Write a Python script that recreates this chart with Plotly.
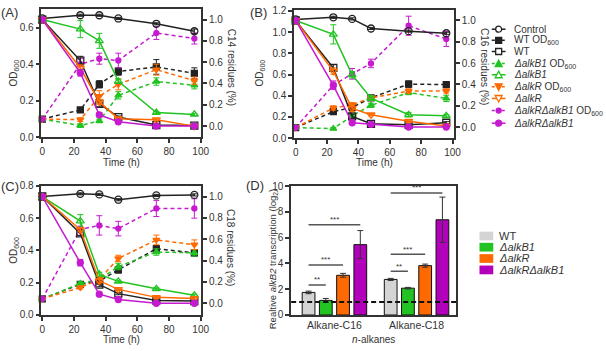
import plotly.graph_objects as go

W, H = 606, 351
def px(x): return x / W
def py(y): return 1 - y / H

FONT = "Liberation Sans, Arial, sans-serif"
AX = "#333333"
BLACK = "#222222"
GREEN = "#22c322"
ORANGE = "#ff6a00"
MAGENTA = "#c61ad0"
PURPLE = "#b300bb"
GREY = "#d4d4d4"

# ---------------- data ----------------
time_h = [0, 24, 36, 48, 72, 96]

# Panel A (C14)
ctrl_A   = [1.01, 1.04, 1.04, 1.01, 0.96, 0.89]
wt_od_A  = [0.10, 0.15, 0.29, 0.36, 0.385, 0.35]
wt_res_A = [1.00, 0.615, 0.21, 0.085, 0.01, 0.005]
b1_od_A  = [0.10, 0.065, 0.09, 0.23, 0.305, 0.285]
b1_res_A = [1.00, 0.91, 0.80, 0.42, 0.127, 0.11]
r_od_A   = [0.10, 0.097, 0.225, 0.29, 0.37, 0.31]
r_res_A  = [1.00, 0.545, 0.227, 0.07, 0.06, 0.0]
rb_od_A  = [0.10, 0.40, 0.43, 0.42, 0.57, 0.54]
rb_res_A = [1.00, 0.50, 0.106, 0.04, 0.0, 0.0]

# Panel B (C16)
ctrl_B   = [1.01, 1.03, 1.015, 0.925, 0.90, 0.88]
wt_od_B  = [0.10, 0.25, 0.29, 0.38, 0.51, 0.505]
wt_res_B = [1.00, 0.555, 0.10, 0.03, 0.02, 0.04]
b1_od_B  = [0.10, 0.09, 0.21, 0.31, 0.43, 0.375]
b1_res_B = [1.00, 0.87, 0.49, 0.27, 0.115, 0.105]
r_od_B   = [0.10, 0.285, 0.315, 0.38, 0.445, 0.445]
r_res_B  = [1.00, 0.525, 0.175, 0.115, 0.055, 0.01]
rb_od_B  = [0.10, 0.50, 0.607, 0.705, 1.06, 0.935]
rb_res_B = [1.00, 0.39, 0.04, 0.025, 0.0, 0.0]

# Panel C (C18)
ctrl_C   = [1.00, 1.025, 1.02, 0.97, 1.01, 1.015]
wt_od_C  = [0.10, 0.19, 0.21, 0.28, 0.41, 0.385]
wt_res_C = [1.00, 0.655, 0.175, 0.09, 0.025, 0.02]
b1_od_C  = [0.10, 0.195, 0.22, 0.30, 0.39, 0.385]
b1_res_C = [1.00, 0.77, 0.27, 0.205, 0.135, 0.075]
r_od_C   = [0.10, 0.17, 0.22, 0.35, 0.465, 0.435]
r_res_C  = [1.00, 0.69, 0.21, 0.13, 0.055, 0.045]
rb_od_C  = [0.10, 0.53, 0.555, 0.535, 0.66, 0.66]
rb_res_C = [1.00, 0.38, 0.085, 0.035, 0.0, 0.0]

# error bars (same units as values)
err_A = {
    "ctrl": [0, 0.01, 0.01, 0.01, 0.01, 0.02],
    "wt_od": [0, 0.01, 0.02, 0.02, 0.04, 0.03],
    "wt_res": [0, 0.04, 0.03, 0.01, 0.01, 0.01],
    "b1_od": [0, 0.01, 0.01, 0.02, 0.02, 0.02],
    "b1_res": [0, 0.08, 0.07, 0.02, 0.01, 0.01],
    "r_od": [0, 0.01, 0.03, 0.03, 0.03, 0.02],
    "r_res": [0, 0.03, 0.02, 0.01, 0.01, 0.01],
    "rb_od": [0, 0.03, 0.03, 0.04, 0.035, 0.03],
    "rb_res": [0, 0.03, 0.02, 0.01, 0.01, 0.01],
}
err_B = {
    "ctrl": [0, 0.01, 0.01, 0.01, 0.01, 0.01],
    "wt_od": [0, 0.01, 0.02, 0.02, 0.03, 0.02],
    "wt_res": [0, 0.03, 0.02, 0.01, 0.01, 0.01],
    "b1_od": [0, 0.01, 0.02, 0.02, 0.02, 0.03],
    "b1_res": [0, 0.09, 0.03, 0.02, 0.02, 0.01],
    "r_od": [0, 0.02, 0.02, 0.02, 0.02, 0.02],
    "r_res": [0, 0.03, 0.03, 0.01, 0.01, 0.01],
    "rb_od": [0, 0.04, 0.05, 0.04, 0.09, 0.07],
    "rb_res": [0, 0.03, 0.01, 0.01, 0.01, 0.01],
}
err_C = {
    "ctrl": [0, 0.01, 0.01, 0.01, 0.01, 0.01],
    "wt_od": [0, 0.01, 0.01, 0.02, 0.02, 0.02],
    "wt_res": [0, 0.02, 0.02, 0.01, 0.01, 0.01],
    "b1_od": [0, 0.01, 0.01, 0.02, 0.02, 0.02],
    "b1_res": [0, 0.06, 0.02, 0.01, 0.01, 0.01],
    "r_od": [0, 0.01, 0.01, 0.02, 0.03, 0.03],
    "r_res": [0, 0.02, 0.02, 0.01, 0.01, 0.01],
    "rb_od": [0, 0.02, 0.06, 0.045, 0.05, 0.06],
    "rb_res": [0, 0.03, 0.01, 0.01, 0.01, 0.01],
}

# Panel D
groups = ["Alkane-C16", "Alkane-C18"]
wt_D = [1.75, 2.76];  wt_D_err = [0.10, 0.08]
b1_D = [1.13, 2.08];  b1_D_err = [0.15, 0.06]
r_D  = [3.08, 3.83];  r_D_err  = [0.15, 0.12]
rb_D = [5.46, 7.39];  rb_D_err = [1.09, 1.76]
sig_levels = [[2.33, 3.88, 7.0], [3.4, 4.72, 9.47]]
sig_labels = ["**", "***", "***"]

legend_names = ["Control", "WT OD<sub>600</sub>", "WT",
                "<i>ΔalkB1</i> OD<sub>600</sub>", "<i>ΔalkB1</i>",
                "<i>ΔalkR</i> OD<sub>600</sub>", "<i>ΔalkR</i>",
                "<i>ΔalkRΔalkB1</i> OD<sub>600</sub>", "<i>ΔalkRΔalkB1</i>"]
bar_names = ["WT", "<i>ΔalkB1</i>", "<i>ΔalkR</i>", "<i>ΔalkRΔalkB1</i>"]

# ---------------- styles ----------------
styles = [
    ("ctrl", BLACK, False, "circle-open", True, 7),
    ("wt_od", BLACK, True, "square", False, 6),
    ("wt_res", BLACK, False, "square-open", True, 7),
    ("b1_od", GREEN, True, "triangle-up", False, 6),
    ("b1_res", GREEN, False, "triangle-up-open", True, 7),
    ("r_od", ORANGE, True, "triangle-down", False, 6),
    ("r_res", ORANGE, False, "triangle-down-open", True, 7),
    ("rb_od", MAGENTA, True, "circle", False, 5),
    ("rb_res", MAGENTA, False, "circle", True, 6),
]

panels = [
    (dict(ctrl=ctrl_A, wt_od=wt_od_A, wt_res=wt_res_A, b1_od=b1_od_A, b1_res=b1_res_A,
          r_od=r_od_A, r_res=r_res_A, rb_od=rb_od_A, rb_res=rb_res_A), err_A, "x", "y", "y2"),
    (dict(ctrl=ctrl_B, wt_od=wt_od_B, wt_res=wt_res_B, b1_od=b1_od_B, b1_res=b1_res_B,
          r_od=r_od_B, r_res=r_res_B, rb_od=rb_od_B, rb_res=rb_res_B), err_B, "x2", "y3", "y4"),
    (dict(ctrl=ctrl_C, wt_od=wt_od_C, wt_res=wt_res_C, b1_od=b1_od_C, b1_res=b1_res_C,
          r_od=r_od_C, r_res=r_res_C, rb_od=rb_od_C, rb_res=rb_res_C), err_C, "x3", "y5", "y6"),
]

fig = go.Figure()

for data, errs, xa, yl, yr in panels:
    for key, col, dashed, sym, right, msize in styles:
        fig.add_trace(go.Scatter(
            x=time_h, y=data[key], xaxis=xa, yaxis=(yr if right else yl),
            mode="lines+markers", showlegend=False,
            line=dict(color=col, width=1.5, dash=("4px,3px" if dashed else "solid")),
            marker=dict(symbol=sym, size=msize, color=col,
                        line=dict(color=col, width=1.3)),
            error_y=dict(type="data", array=errs[key], color=col, thickness=1, width=3),
            cliponaxis=False,
        ))

# Panel D bars
bar_data = [(wt_D, wt_D_err, GREY), (b1_D, b1_D_err, GREEN), (r_D, r_D_err, ORANGE), (rb_D, rb_D_err, PURPLE)]
for (vals, errs, col), name in zip(bar_data, bar_names):
    fig.add_trace(go.Bar(
        x=[0, 1], y=vals, xaxis="x4", yaxis="y7", name=name, showlegend=False,
        marker=dict(color=col, line=dict(color="#111111", width=1)),
        error_y=dict(type="data", array=errs, color="#333333", thickness=1, width=3),
    ))

BARGAP, GROUPGAP = 0.16, 0.26
slot = (1 - BARGAP) / 4
offsets = [-(1 - BARGAP) / 2 + (k + 0.5) * slot for k in range(4)]

shapes = []
annotations = []

# significance brackets
for gi, levels in enumerate(sig_levels):
    for k, (lev, lab) in enumerate(zip(levels, sig_labels)):
        x0 = gi + offsets[0]
        x1 = gi + offsets[k + 1]
        shapes.append(dict(type="line", xref="x4", yref="y7", x0=x0, x1=x1, y0=lev, y1=lev,
                           line=dict(color="#555555", width=1.5)))
        annotations.append(dict(x=(x0 + x1) / 2, y=lev, xref="x4", yref="y7", text=lab,
                                showarrow=False, yshift=5, font=dict(size=8, color="#333333")))
# reference dashed line at 1
shapes.append(dict(type="line", xref="x4 domain", yref="y7", x0=0, x1=1, y0=1, y1=1,
                   line=dict(color="#111111", width=2, dash="5px,3px")))

tickfont = dict(size=10, color="#333333", family=FONT)

def xcfg(dom, rng):
    return dict(domain=[px(dom[0]), px(dom[1])], range=rng, tickvals=[0, 20, 40, 60, 80, 100],
                ticks="outside", ticklen=4, tickwidth=1.5, tickcolor=AX, showline=True,
                linecolor=AX, linewidth=1.5, mirror=True, showgrid=False, zeroline=False,
                tickfont=tickfont)

def ylcfg(dom, rng, tv, anchor):
    return dict(domain=[py(dom[1]), py(dom[0])], range=rng, tickvals=tv, tickformat=".1f",
                ticks="outside", ticklen=4, tickwidth=1.5, tickcolor=AX, showline=True,
                linecolor=AX, linewidth=1.5, showgrid=False, zeroline=False,
                tickfont=tickfont, anchor=anchor)

def yrcfg(rng, over, anchor):
    return dict(overlaying=over, side="right", anchor=anchor, range=rng,
                tickvals=[0, 0.2, 0.4, 0.6, 0.8, 1.0], tickformat=".1f",
                ticks="outside", ticklen=4, tickwidth=1.5, tickcolor=AX, showline=True,
                linecolor=AX, linewidth=1.5, showgrid=False, zeroline=False, tickfont=tickfont)

A_dom_x, A_dom_y = (40, 202.5), (4, 136.7)
B_dom_x, B_dom_y = (297, 459.7), (5, 137.5)
C_dom_x, C_dom_y = (40, 202.5), (186.7, 320)

fig.update_layout(
    width=W, height=H, margin=dict(l=0, r=0, t=0, b=0),
    paper_bgcolor="white", plot_bgcolor="white",
    font=dict(family=FONT, size=10, color="#333333"),
    barmode="group", bargap=BARGAP, bargroupgap=GROUPGAP,
    showlegend=False,
    xaxis=xcfg(A_dom_x, [-0.6, 100.3]) | dict(anchor="y"),
    yaxis=ylcfg(A_dom_y, [0, 0.702], [0, 0.2, 0.4, 0.6], "x"),
    yaxis2=yrcfg([-0.106, 1.1], "y", "x"),
    xaxis2=xcfg(B_dom_x, [-1, 101]) | dict(anchor="y3"),
    yaxis3=ylcfg(B_dom_y, [0, 1.21], [0, 0.2, 0.4, 0.6, 0.8, 1.0, 1.2], "x2"),
    yaxis4=yrcfg([-0.105, 1.1], "y3", "x2"),
    xaxis3=xcfg(C_dom_x, [-0.6, 100.3]) | dict(anchor="y5"),
    yaxis5=ylcfg(C_dom_y, [0, 0.8], [0, 0.2, 0.4, 0.6, 0.8], "x3"),
    yaxis6=yrcfg([-0.11, 1.1], "y5", "x3"),
    xaxis4=dict(domain=[px(294), px(462)], range=[-0.527, 1.485], tickvals=[0, 1],
                ticktext=groups, ticks="", showline=True, linecolor=AX, linewidth=1.5,
                mirror=True, showgrid=False, zeroline=False, anchor="y7",
                tickfont=dict(size=10.5, color="#333333", family=FONT)),
    yaxis7=dict(domain=[py(320), py(187)], range=[0, 10], tickvals=[0, 2, 4, 6, 8, 10],
                ticks="outside", ticklen=4, tickwidth=1.5, tickcolor=AX, showline=True,
                linecolor=AX, linewidth=1.5, mirror=True, showgrid=False, zeroline=False,
                anchor="x4", tickfont=tickfont),
)

def ann(x, y, text, size=10, angle=0, xanchor="center", yanchor="middle"):
    annotations.append(dict(x=px(x), y=py(y), xref="paper", yref="paper", text=text,
                            showarrow=False, textangle=angle, xanchor=xanchor, yanchor=yanchor,
                            font=dict(size=size, color="#333333", family=FONT)))

# panel labels
ann(8, 8, "(A)", 13)
ann(261, 8, "(B)", 13)
ann(8, 187, "(C)", 13)
ann(257, 186, "(D)", 13)

# axis titles
ann(12, 70, "OD<sub>600</sub>", 10, -90)
ann(262, 70, "OD<sub>600</sub>", 10, -90)
ann(12, 253, "OD<sub>600</sub>", 10, -90)
ann(233, 64, "C14 residues (%)", 10, 90)
ann(490, 64, "C16 residues (%)", 10, 90)
ann(233, 250, "C18 residues (%)", 10, 90)
ann(121, 163, "Time (h)", 10)
ann(379, 163, "Time (h)", 10)
ann(121, 345.5, "Time (h)", 10)
ann(275, 262, "Realtive <i>alkB2</i> transcription (log<sub>2</sub>)", 9.5, -90)
ann(378, 345, "<i>n</i>-alkanes", 10)

# compact legend for panels A-C
leg_y = [25, 36.5, 48, 60.5, 72, 84.5, 96.5, 109, 122]
for (key, col, dashed, sym, right, msize), name, yy in zip(styles, legend_names, leg_y):
    shapes.append(dict(type="line", xref="paper", yref="paper", x0=px(498), x1=px(512),
                       y0=py(yy), y1=py(yy),
                       line=dict(color=col, width=1.5, dash=("3px,2px" if dashed else "solid"))))
    filled = not sym.endswith("open")
    fc = col if filled else "white"
    base = dict(xref="paper", yref="paper", xsizemode="pixel", ysizemode="pixel",
                xanchor=px(505), yanchor=py(yy), fillcolor=fc, line=dict(color=col, width=1.3))
    if sym.startswith("circle"):
        r = 2.5 if msize <= 5 else 3
        shapes.append(dict(type="circle", x0=-r, x1=r, y0=-r, y1=r, **base))
    elif sym.startswith("square"):
        shapes.append(dict(type="rect", x0=-3, x1=3, y0=-3, y1=3, **base))
    elif sym.startswith("triangle-up"):
        shapes.append(dict(type="path", path="M -3.5,-3 L 3.5,-3 L 0,3.5 Z", **base))
    else:
        shapes.append(dict(type="path", path="M -3.5,3 L 3.5,3 L 0,-3.5 Z", **base))
    ann(519, yy, name, 10, 0, "left")

# legend for panel D
legD_y = [238.5, 250, 261.7, 273.5]
for (vals, errs, col), name, yy in zip(bar_data, bar_names, legD_y):
    shapes.append(dict(type="rect", xref="paper", yref="paper", x0=px(485.5), x1=px(499.5),
                       y0=py(yy + 4.5), y1=py(yy - 4.5), fillcolor=col, line=dict(width=0)))
    ann(503, yy, name, 11, 0, "left")

fig.update_layout(shapes=shapes, annotations=annotations)
fig.write_html("out.html")
